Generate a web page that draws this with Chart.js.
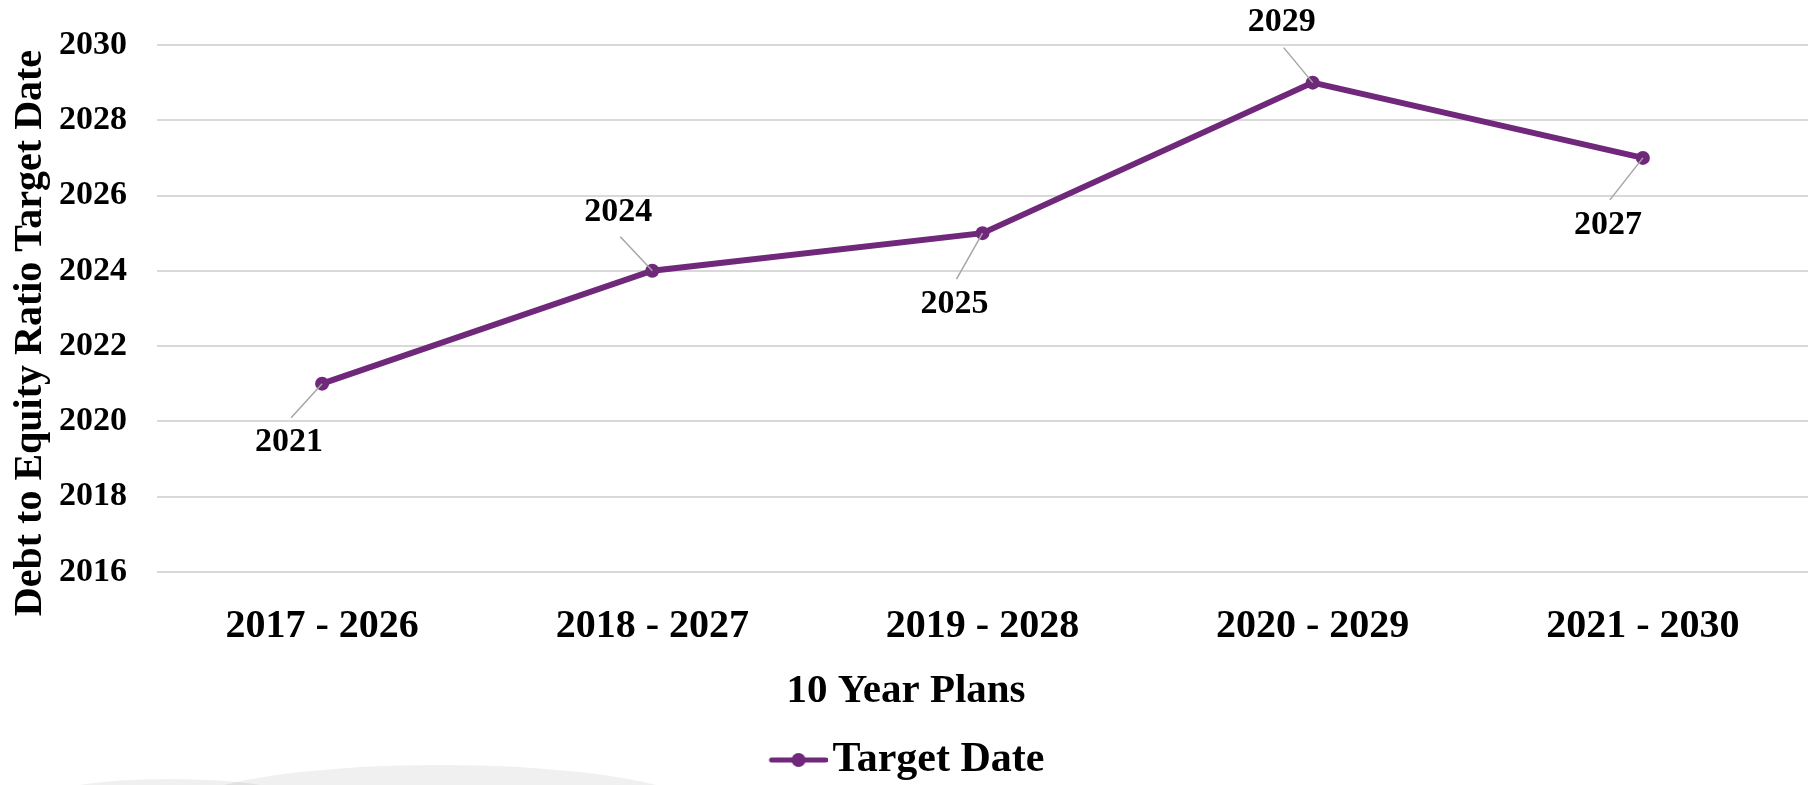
<!DOCTYPE html>
<html>
<head>
<meta charset="utf-8">
<title>Target Date</title>
<script src="https://cdn.jsdelivr.net/npm/chart.js@4.4.1/dist/chart.umd.min.js"></script>
<style>
  html, body { margin: 0; padding: 0; background: #fff; overflow: hidden; }
</style>
</head>
<body>
<canvas id="planChart" width="1815" height="791"></canvas>
<script>
const plans = ["2017 - 2026", "2018 - 2027", "2019 - 2028", "2020 - 2029", "2021 - 2030"];
const targetDates = [2021, 2024, 2025, 2029, 2027];
const yTicks = [2016, 2018, 2020, 2022, 2024, 2026, 2028, 2030];

const seriesName = "Target Date";
const xTitle = "10 Year Plans";
const yTitleText = "Debt to Equity Ratio Target Date";

const PURPLE = "#70287a";
const SERIF = '"Liberation Serif", "Times New Roman", serif';

// where each value label sits, relative to its point
const labelShift = [[-33, 59], [-34, -59], [-28, 71], [-31, -60], [-35, 67]];

// legend marker: line with a dot in the middle
function legendMarker() {
  const c = document.createElement("canvas");
  c.width = 76;
  c.height = 20;
  const g = c.getContext("2d");
  g.strokeStyle = PURPLE;
  g.lineWidth = 5;
  g.lineCap = "round";
  g.beginPath();
  g.moveTo(20, 10);
  g.lineTo(74, 10);
  g.stroke();
  g.fillStyle = PURPLE;
  g.beginPath();
  g.arc(47, 10, 7, 0, Math.PI * 2);
  g.fill();
  return c;
}

const backdrop = {
  id: "backdrop",
  beforeDraw(chart) {
    const ctx = chart.ctx;
    ctx.save();
    ctx.fillStyle = "#fff";
    ctx.fillRect(0, 0, chart.width, chart.height);
    // faint grey swooshes at the bottom left
    ctx.fillStyle = "rgba(0,0,0,0.06)";
    ctx.beginPath();
    ctx.ellipse(170, 800, 130, 21, 0, 0, Math.PI * 2);
    ctx.fill();
    ctx.beginPath();
    ctx.ellipse(440, 810, 260, 45, 0, 0, Math.PI * 2);
    ctx.fill();
    ctx.restore();
  }
};

const pointLabels = {
  id: "pointLabels",
  afterDatasetsDraw(chart) {
    const ctx = chart.ctx;
    const pts = chart.getDatasetMeta(0).data;
    ctx.save();
    ctx.font = `bold 34px ${SERIF}`;
    ctx.textAlign = "center";
    ctx.textBaseline = "middle";
    pts.forEach((p, i) => {
      const [dx, dy] = labelShift[i];
      const lx = p.x + dx;
      const ly = p.y + dy;
      const ey = ly - Math.sign(dy) * 25;
      ctx.strokeStyle = "#a6a6a6";
      ctx.lineWidth = 1.5;
      ctx.beginPath();
      ctx.moveTo(p.x, p.y);
      ctx.lineTo(lx + 2, ey);
      ctx.stroke();
      ctx.fillStyle = "#000";
      ctx.fillText(String(targetDates[i]), lx, ly);
    });
    ctx.restore();
  }
};

const yTitle = {
  id: "yTitle",
  afterDraw(chart) {
    const ctx = chart.ctx;
    ctx.save();
    ctx.translate(31, 333);
    ctx.rotate(-Math.PI / 2);
    ctx.font = `bold 40px ${SERIF}`;
    ctx.fillStyle = "#000";
    ctx.textAlign = "center";
    ctx.textBaseline = "middle";
    ctx.fillText(yTitleText, 0, 0);
    ctx.restore();
  }
};

new Chart(document.getElementById("planChart"), {
  type: "line",
  data: {
    labels: plans,
    datasets: [{
      label: seriesName,
      data: targetDates,
      borderColor: PURPLE,
      backgroundColor: PURPLE,
      borderWidth: 6,
      pointRadius: 7,
      pointHoverRadius: 7,
      pointBackgroundColor: PURPLE,
      pointBorderWidth: 0,
      tension: 0,
      clip: false
    }]
  },
  options: {
    responsive: false,
    animation: false,
    layout: { padding: { top: 45, right: 3, left: 0, bottom: 0 } },
    plugins: {
      legend: {
        position: "bottom",
        labels: {
          usePointStyle: true,
          pointStyle: legendMarker(),
          pointStyleWidth: 44,
          padding: 15,
          color: "#000",
          font: { family: SERIF, size: 42, weight: "bold" }
        }
      },
      title: {
        display: true,
        position: "bottom",
        weight: 500,
        text: xTitle,
        color: "#000",
        font: { family: SERIF, size: 41, weight: "bold" },
        padding: { top: 10, bottom: 8 }
      },
      tooltip: { enabled: false }
    },
    scales: {
      x: {
        offset: true,
        grid: { display: false },
        border: { display: false },
        ticks: {
          color: "#000",
          padding: 23,
          maxRotation: 0,
          autoSkip: false,
          font: { family: SERIF, size: 40, weight: "bold" }
        },
        afterFit: s => { s.height = 85; }
      },
      y: {
        min: 2016,
        max: 2030,
        grid: { color: "#d9d9d9", lineWidth: 2, drawTicks: false },
        border: { display: false },
        ticks: {
          color: "#000",
          padding: 30,
          font: { family: SERIF, size: 34, weight: "bold" },
          callback: v => String(v)
        },
        afterBuildTicks: s => { s.ticks = yTicks.map(v => ({ value: v })); },
        afterFit: s => {
          s.width = 157;
          // tick padding should only push labels sideways, not shrink the plot
          s.paddingTop = 20;
          s.paddingBottom = 20;
        }
      }
    }
  },
  plugins: [backdrop, pointLabels, yTitle]
});
</script>
</body>
</html>
